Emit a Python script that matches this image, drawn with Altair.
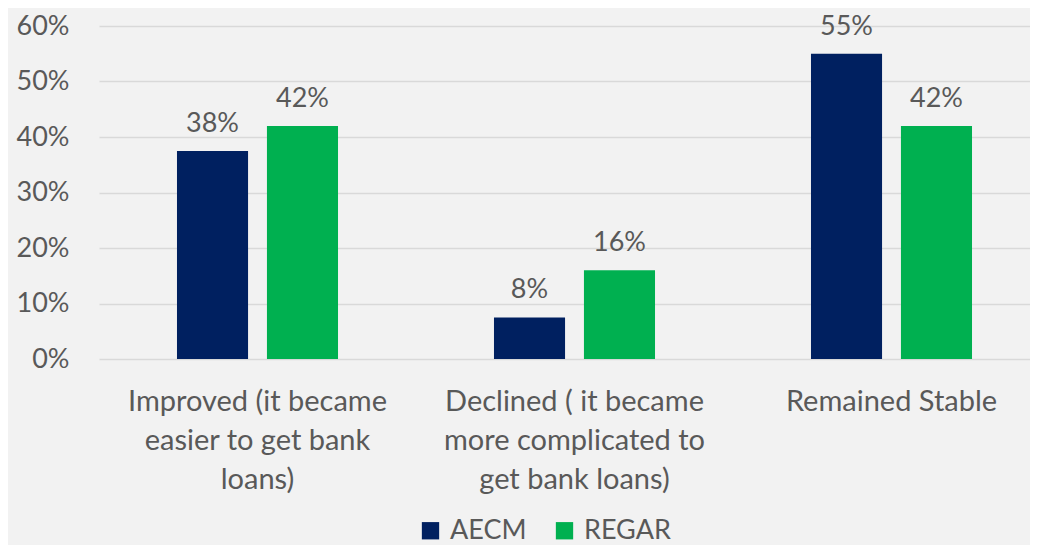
import altair as alt
import pandas as pd

categories = [
    "Improved (it became easier to get bank loans)",
    "Declined ( it became more complicated to get bank loans)",
    "Remained Stable",
]
label_lines = [
    ["Improved (it became", "easier to get bank", "loans)"],
    ["Declined ( it became", "more complicated to", "get bank loans)"],
    ["Remained Stable"],
]
series = ["AECM", "REGAR"]
aecm = [0.375, 0.075, 0.55]
regar = [0.42, 0.16, 0.42]
colors = ["#002060", "#00B050"]

rows = []
for i, c in enumerate(categories):
    rows.append({"cat": c, "series": "AECM", "value": aecm[i]})
    rows.append({"cat": c, "series": "REGAR", "value": regar[i]})
df = pd.DataFrame(rows)

expr_parts = []
for c, lines in zip(categories, label_lines):
    arr = "[" + ",".join("'" + l + "'" for l in lines) + "]"
    expr_parts.append(f"datum.label == '{c}' ? {arr}")
label_expr = " : ".join(expr_parts) + " : datum.label"

FONT = "Lato"
TXT = "#595959"

x = alt.X("cat:N", sort=categories, title=None,
          scale=alt.Scale(paddingInner=0.492, paddingOuter=0.246, range=[0, 951]),
          axis=alt.Axis(labelExpr=label_expr, labelAngle=0, labelFontSize=29,
                        labelFont=FONT, labelColor=TXT, labelLineHeight=39,
                        labelPadding=28, ticks=False, domain=False,
                        labelBaseline="top", labelLimit=0))
xo = alt.XOffset("series:N", sort=series,
                 scale=alt.Scale(paddingInner=0.21, paddingOuter=0))
y = alt.Y("value:Q", title=None,
          scale=alt.Scale(domain=[0, 0.6], nice=False),
          axis=alt.Axis(format=".0%", values=[0, 0.1, 0.2, 0.3, 0.4, 0.5, 0.6],
                        labelFontSize=27, labelFont=FONT, labelColor=TXT,
                        labelPadding=30, ticks=False, domain=False,
                        gridColor="#d9d9d9", gridWidth=1.5))

base = alt.Chart(df).encode(x=x, xOffset=xo, y=y)

bars = base.mark_bar().encode(
    color=alt.Color("series:N", sort=series,
                    scale=alt.Scale(domain=series, range=colors),
                    legend=alt.Legend(title=None, orient="none", direction="horizontal",
                                      legendX=318, legendY=491,
                                      symbolType="square", symbolSize=300,
                                      symbolStrokeWidth=0, labelFontSize=27,
                                      labelFont=FONT, labelColor=TXT,
                                      columnPadding=24, labelOffset=6))
)
labels = base.mark_text(dy=-19, baseline="alphabetic", fontSize=27, font=FONT,
                        color=TXT).encode(text=alt.Text("value:Q", format=".0%"))

chart = (bars + labels).properties(
    width=931, height=333,
    autosize=alt.AutoSizeParams(type="none"),
    padding={"left": 91, "top": 18, "right": 0, "bottom": 186},
    background="#f2f2f2",
).configure_view(stroke=None)

chart.save("out.html", embed_options={"renderer": "svg", "actions": False})
